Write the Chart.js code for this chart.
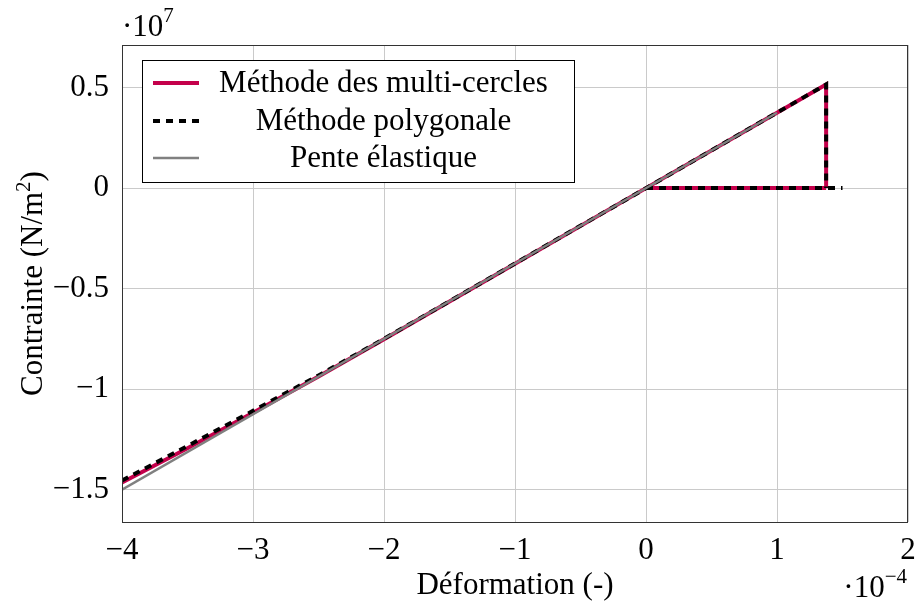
<!DOCTYPE html>
<html>
<head>
<meta charset="utf-8">
<script src="https://cdn.jsdelivr.net/npm/chart.js@4"></script>
<style>
  html, body { margin: 0; padding: 0; background: #fff; }
  #wrap { width: 918px; height: 605px; }
</style>
</head>
<body>
<div id="wrap"><canvas id="myChart" width="918" height="605"></canvas></div>
<script>
// strain in units of 1e-4, stress in units of 1e7 N/m2 (null = break in the line)
const multiStrain = [-4, -3.5, -3, -2.5, -2, -1, 0, 1.375, 1.375, 1.375, 0, 1.375];
const multiStress = [-1.465, -1.294, -1.118, -0.937, -0.752, -0.376, 0, 0.516, 0, null, 0, 0];

const polyStrain = [-4, -3.5, -3, -2.5, -2, -1, 0, 1.375, 1.375, 1.375, 0, 1.5];
const polyStress = [-1.455, -1.283, -1.108, -0.932, -0.75, -0.375, 0, 0.516, 0, null, 0, 0];

const elasticStrain = [-4, 1];
const elasticStress = [-1.5, 0.375];

const labels = ['Méthode des multi-cercles', 'Méthode polygonale', 'Pente élastique'];
const xTicks = [-4, -3, -2, -1, 0, 1, 2];
const yTicks = [-1.5, -1, -0.5, 0, 0.5];

const FONT = '"Liberation Serif", "DejaVu Serif", serif';
const FS = 31;

function pts(xs, ys) {
  return xs.map((x, i) => ({ x: x, y: ys[i] }));
}
function fmt(v) {
  v = Math.round(v * 100) / 100;
  return v < 0 ? '\u2212' + Math.abs(v) : String(v);
}

// frame, axis titles, multipliers and the centred legend, pgfplots style
const decor = {
  id: 'decor',
  afterDraw(chart) {
    const c = chart.ctx;
    const a = chart.chartArea;
    c.save();
    c.strokeStyle = '#333';
    c.lineWidth = 1;
    c.strokeRect(a.left + 0.5, a.top + 0.5, a.right - a.left - 1, a.bottom - a.top);

    c.fillStyle = '#000';
    c.font = FS + 'px ' + FONT;
    c.textAlign = 'center';
    c.textBaseline = 'alphabetic';
    c.fillText('Déformation (-)', (a.left + a.right) / 2, 594);

    c.save();
    c.translate(42, (a.top + a.bottom) / 2);
    c.rotate(-Math.PI / 2);
    const base = 'Contrainte (N/m';
    const wb = c.measureText(base).width;
    c.font = '21px ' + FONT;
    const ws = c.measureText('2').width;
    c.font = FS + 'px ' + FONT;
    const wc = c.measureText(')').width;
    const x0 = -(wb + ws + wc) / 2;
    c.textAlign = 'left';
    c.fillText(base, x0, 0);
    c.font = '21px ' + FONT;
    c.fillText('2', x0 + wb, -12);
    c.font = FS + 'px ' + FONT;
    c.fillText(')', x0 + wb + ws, 0);
    c.restore();

    // multipliers
    c.textAlign = 'left';
    c.font = FS + 'px ' + FONT;
    c.fillText('\u00b710', 122, 36);
    let w = c.measureText('\u00b710').width;
    c.font = '21px ' + FONT;
    c.fillText('7', 122 + w, 22);

    c.font = FS + 'px ' + FONT;
    const t = '\u00b710';
    w = c.measureText(t).width;
    c.font = '21px ' + FONT;
    const we = c.measureText('\u22124').width;
    const xs = 907 - w - we;
    c.font = FS + 'px ' + FONT;
    c.fillText(t, xs, 597);
    c.font = '21px ' + FONT;
    c.fillText('\u22124', xs + w, 583);

    // legend
    c.fillStyle = '#fff';
    c.fillRect(142, 60, 433, 122);
    c.strokeStyle = '#000';
    c.lineWidth = 1;
    c.strokeRect(142.5, 60.5, 432, 122);
    const rows = [83, 121, 158];
    chart.data.datasets.forEach((ds, i) => {
      c.save();
      c.strokeStyle = ds.borderColor;
      c.lineWidth = ds.borderWidth;
      c.setLineDash(ds.borderDash || []);
      c.beginPath();
      c.moveTo(153, rows[i]);
      c.lineTo(199, rows[i]);
      c.stroke();
      c.restore();
      c.fillStyle = '#000';
      c.font = FS + 'px ' + FONT;
      c.textAlign = 'center';
      c.textBaseline = 'middle';
      c.fillText(ds.label, 383.5, rows[i] + 1);
    });
    c.restore();
  }
};

new Chart(document.getElementById('myChart'), {
  type: 'scatter',
  data: {
    datasets: [{
      label: labels[0],
      data: pts(multiStrain, multiStress),
      borderColor: '#c4004b',
      borderWidth: 4,
      showLine: true,
      spanGaps: false,
      pointRadius: 0,
      borderJoinStyle: 'miter',
      order: 3
    }, {
      label: labels[1],
      data: pts(polyStrain, polyStress),
      borderColor: '#000',
      borderWidth: 4,
      borderDash: [7, 6],
      showLine: true,
      spanGaps: false,
      pointRadius: 0,
      borderJoinStyle: 'miter',
      order: 2
    }, {
      label: labels[2],
      data: pts(elasticStrain, elasticStress),
      borderColor: '#808080',
      borderWidth: 2.5,
      showLine: true,
      pointRadius: 0,
      order: 1
    }]
  },
  options: {
    responsive: false,
    animation: false,
    layout: { padding: { left: 0, top: 45, right: 10, bottom: 0 } },
    plugins: { legend: { display: false }, tooltip: { enabled: false } },
    scales: {
      x: {
        type: 'linear',
        min: xTicks[0],
        max: xTicks[xTicks.length - 1],
        afterFit(s) { s.height = 83; s.paddingLeft = 0; s.paddingRight = 0; },
        afterBuildTicks(s) { s.ticks = xTicks.map(v => ({ value: v })); },
        grid: { color: '#cacaca', lineWidth: 1, drawTicks: false },
        border: { display: false },
        ticks: {
          padding: 10,
          color: '#000',
          font: { family: FONT, size: FS },
          maxRotation: 0,
          callback: v => fmt(v)
        }
      },
      y: {
        type: 'linear',
        min: -1.661,
        max: 0.712,
        afterFit(s) { s.width = 122; s.paddingTop = 0; s.paddingBottom = 0; },
        afterBuildTicks(s) { s.ticks = yTicks.map(v => ({ value: v })); },
        grid: { color: '#cacaca', lineWidth: 1, drawTicks: false },
        border: { display: false },
        ticks: {
          padding: 13,
          color: '#000',
          font: { family: FONT, size: FS },
          callback: v => fmt(v)
        }
      }
    }
  },
  plugins: [decor]
});
</script>
</body>
</html>
